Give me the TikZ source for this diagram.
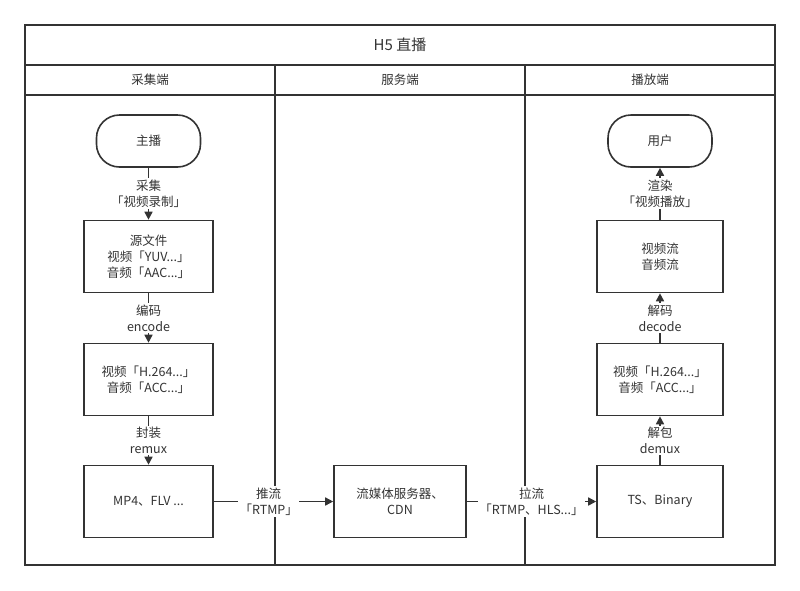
\documentclass[tikz,border=0pt]{standalone}
\usepackage{fontspec}
\setmainfont{Noto Sans CJK SC}
\usetikzlibrary{arrows.meta}
\definecolor{ink}{HTML}{333333}

\tikzset{
  box/.style={draw=ink,line width=1.6pt,minimum width=129pt,minimum height=72pt,
    align=center,text=ink,inner sep=0pt},
  term/.style={draw=ink,line width=1.6pt,rounded corners=23pt,minimum width=104pt,
    minimum height=52pt,text=ink,inner sep=0pt},
  lbl/.style={fill=white,align=center,text=ink,inner sep=1.5pt},
  flow/.style={draw=ink,line width=1.6pt,-{Triangle[length=8pt,width=8pt]}},
}

\begin{document}
\begin{tikzpicture}[x=1pt,y=-1pt,font=\fontsize{12.5}{16}\selectfont]
\useasboundingbox (0,0) rectangle (800,590);

% lanes
\draw[ink,line width=1.6pt] (25,25) rectangle (775,565);
\draw[ink,line width=1.6pt] (25,65) -- (775,65);
\draw[ink,line width=1.6pt] (25,95) -- (775,95);
\draw[ink,line width=1.6pt] (275,65) -- (275,565);
\draw[ink,line width=1.6pt] (525,65) -- (525,565);
\node[text=ink,font=\fontsize{15}{16}\selectfont] (title) at (400,45) {H5 直播};
\node[text=ink] (capture) at (150,80) {采集端};
\node[text=ink] (server) at (400,80) {服务端};
\node[text=ink] (player) at (650,80) {播放端};

% capture side
\node[term] (anchor) at (148.5,141) {主播};
\node[box] (src) at (148.5,256.5) {源文件\\视频「YUV...」\\音频「AAC...」};
\node[box] (enc) at (148.5,379.5) {视频「H.264...」\\音频「ACC...」};
\node[box] (pkg) at (148.5,501.5) {MP4、FLV ...};

% server side
\node[box,minimum width=132pt] (cdn) at (400,501.5) {流媒体服务器、\\CDN};

% player side
\node[term] (user) at (660,141) {用户};
\node[box,minimum width=126pt] (play) at (660,256.5) {视频流\\音频流};
\node[box,minimum width=126pt] (dec) at (660,379.5) {视频「H.264...」\\音频「ACC...」};
\node[box,minimum width=126pt] (raw) at (660,501.5) {TS、Binary};

\draw[flow] (anchor) -- (src) node[lbl,midway] {采集\\「视频录制」};
\draw[flow] (src) -- (enc) node[lbl,midway] {编码\\encode};
\draw[flow] (enc) -- (pkg) node[lbl,midway] {封装\\remux};
\draw[flow] (pkg) -- (cdn) node[lbl,pos=0.46] {推流\\「RTMP」};
\draw[flow] (cdn) -- (raw) node[lbl,midway] {拉流\\「RTMP、HLS...」};
\draw[flow] (raw) -- (dec) node[lbl,midway] {解包\\demux};
\draw[flow] (dec) -- (play) node[lbl,midway] {解码\\decode};
\draw[flow] (play) -- (user) node[lbl,midway] {渲染\\「视频播放」};

\end{tikzpicture}
\end{document}
